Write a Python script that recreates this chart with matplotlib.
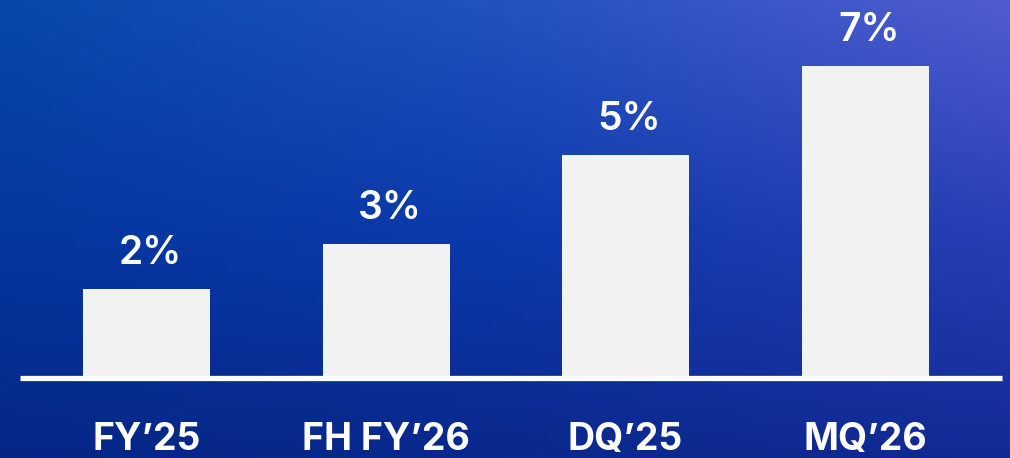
import matplotlib.pyplot as plt
import numpy as np

categories = ["FY\u201925", "FH FY\u201926", "DQ\u201925", "MQ\u201926"]
values = [2, 3, 5, 7]
labels = ["2%", "3%", "5%", "7%"]

W, H = 1010, 458
fig = plt.figure(figsize=(W / 100, H / 100), dpi=100)

# background gradient (3x3 control colours, bilinear blend)
ctrl = np.array([
    [[5, 72, 170], [35, 82, 190], [82, 92, 208]],
    [[5, 55, 158], [12, 58, 172], [40, 62, 180]],
    [[5, 38, 135], [10, 40, 140], [18, 42, 148]],
]) / 255.0
ys = np.linspace(0, 2, H)
xs = np.linspace(0, 2, W)
X, Y = np.meshgrid(xs, ys)
x0 = np.clip(np.floor(X).astype(int), 0, 1)
y0 = np.clip(np.floor(Y).astype(int), 0, 1)
fx = (X - x0)[..., None]
fy = (Y - y0)[..., None]
bg = (ctrl[y0, x0] * (1 - fx) * (1 - fy) + ctrl[y0, x0 + 1] * fx * (1 - fy)
      + ctrl[y0 + 1, x0] * (1 - fx) * fy + ctrl[y0 + 1, x0 + 1] * fx * fy)

bgax = fig.add_axes([0, 0, 1, 1])
bgax.imshow(bg, aspect="auto", extent=[0, 1, 0, 1])
bgax.axis("off")

# main axes: x from 0..W px, y in data units, baseline at y px 378
ax = fig.add_axes([0, 0, 1, 1])
ax.patch.set_alpha(0)
ax.set_xlim(0, W)
scale = 44.6  # px per percent
base = H - 378
ax.set_ylim(-base / scale, (H - base) / scale)
ax.axis("off")

centers = [146.5, 386, 625.5, 865]
ax.bar(centers, values, width=127, color="#f2f2f2", zorder=2)
ax.plot([20, 1002], [0, 0], color="white", lw=3.8, solid_capstyle="butt", zorder=3)

for c, v, lab in zip(centers, values, labels):
    ax.text(c + 4, v + 25 / scale, lab, ha="center", va="baseline", color="white",
            fontsize=28, fontfamily="Inter", fontweight="semibold")

for c, cat in zip(centers, categories):
    ax.text(c, -72 / scale, cat, ha="center", va="baseline", color="white",
            fontsize=27, fontfamily="Inter", fontweight="bold")

fig.savefig("out.png", dpi=100)
